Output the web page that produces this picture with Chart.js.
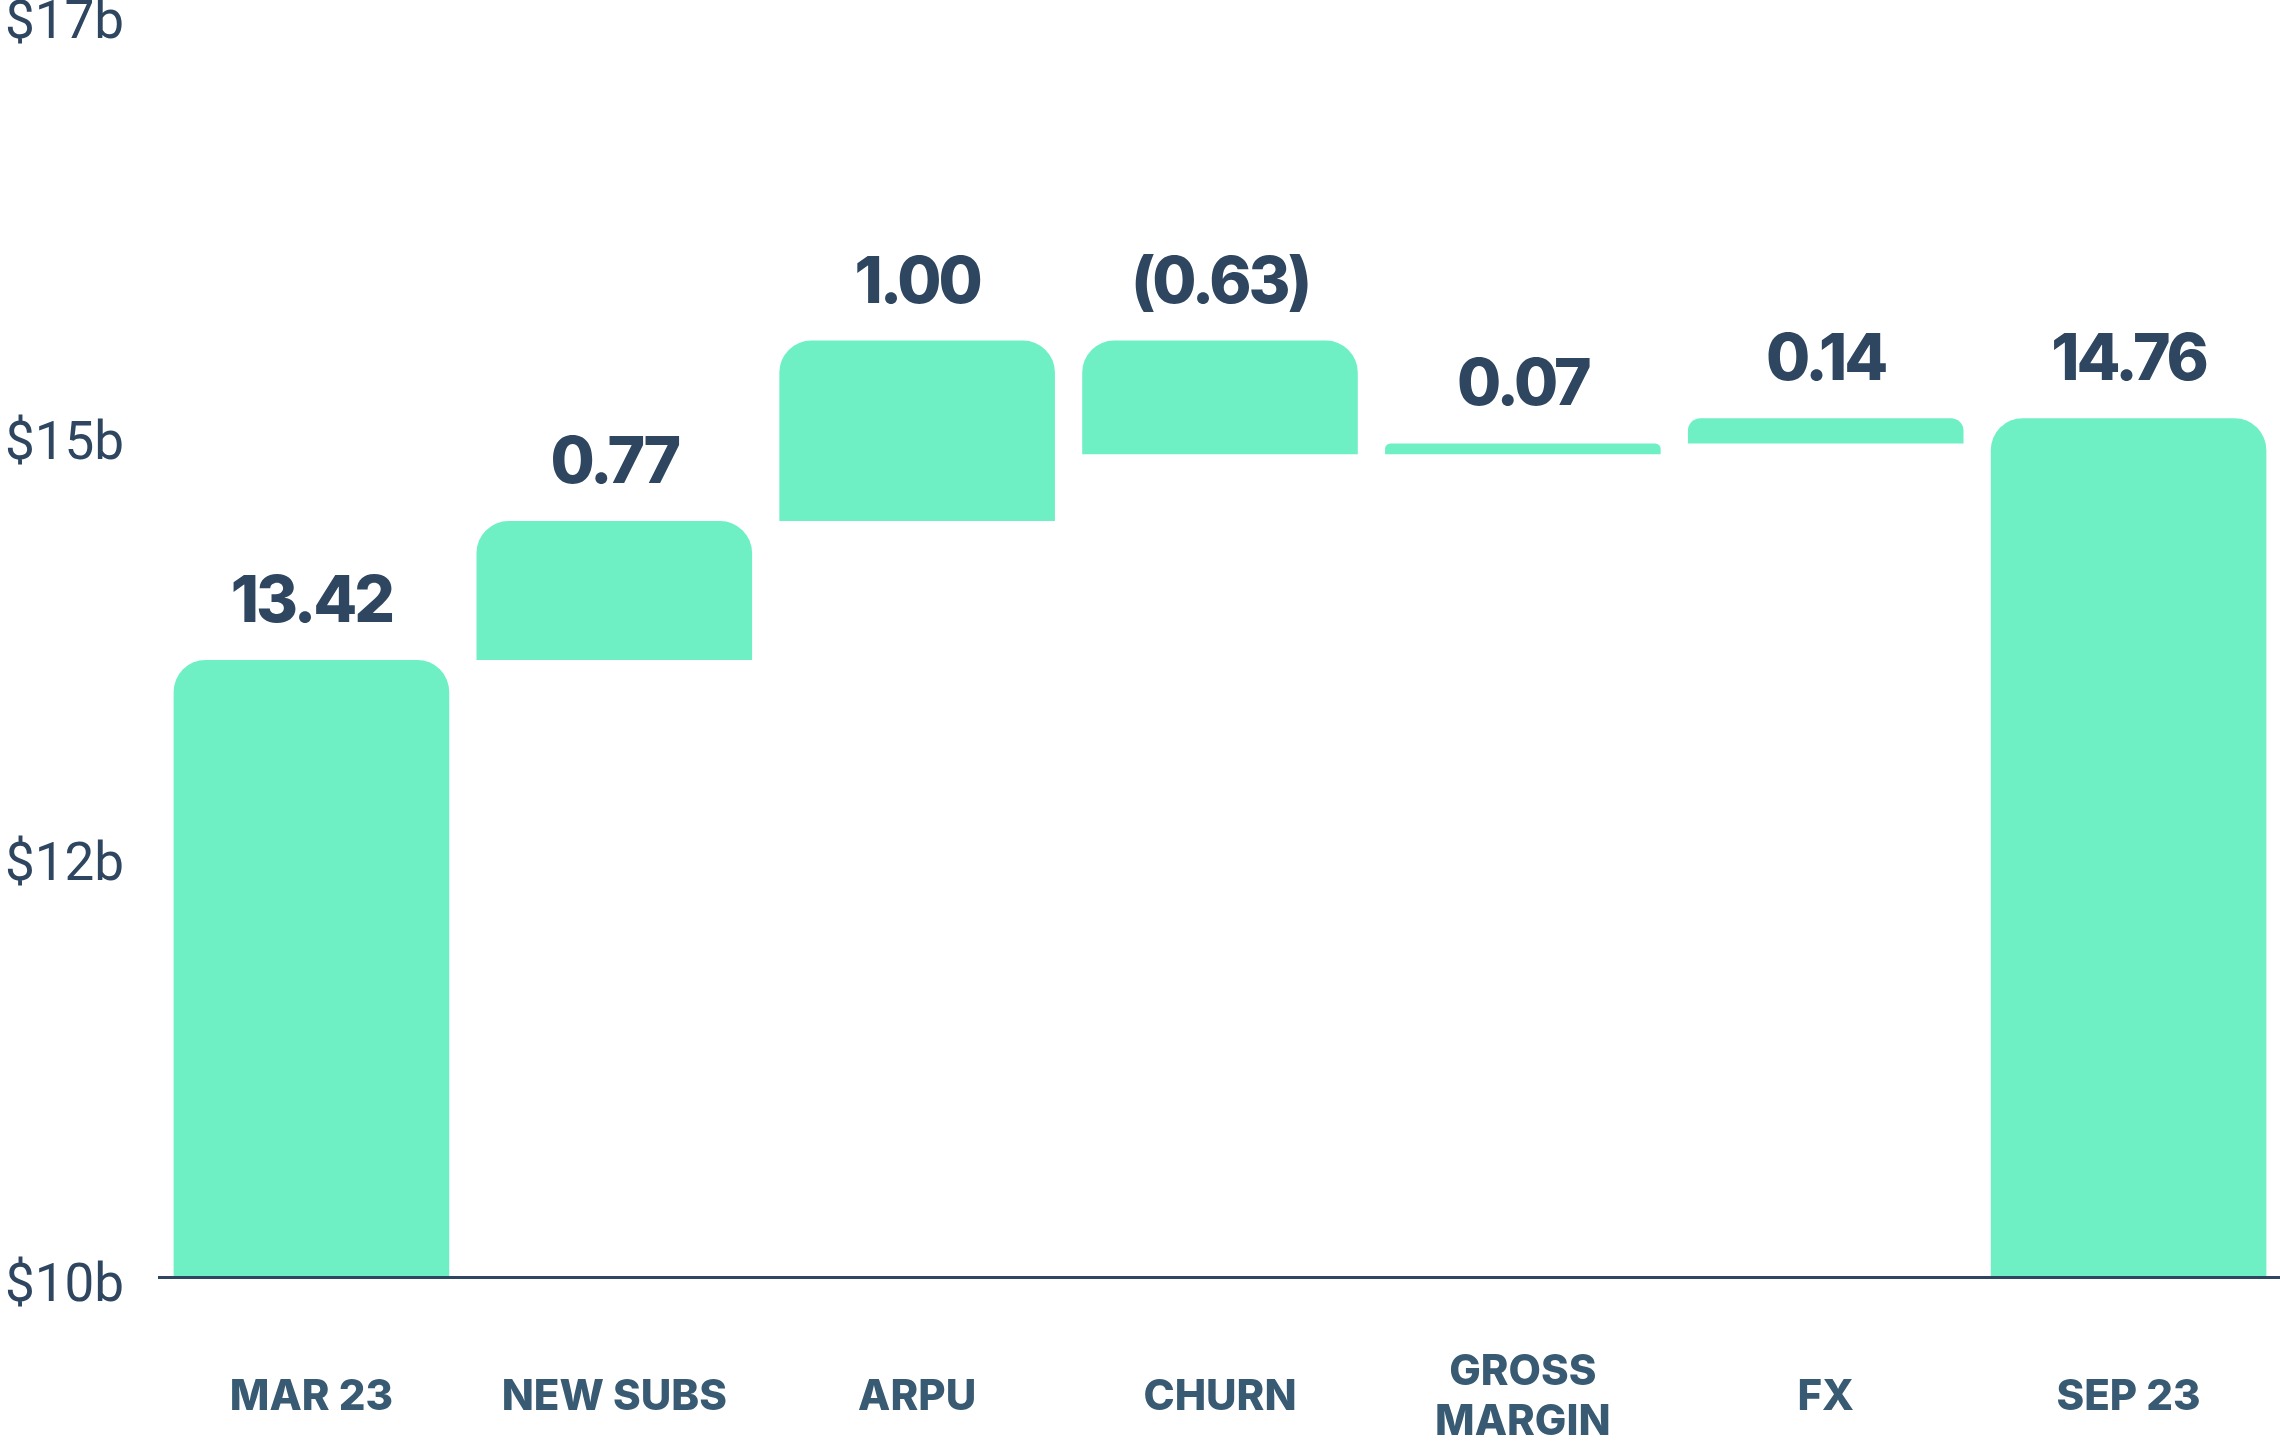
<!DOCTYPE html>
<html>
<head>
<meta charset="utf-8">
<script src="https://cdn.jsdelivr.net/npm/chart.js@4/dist/chart.umd.min.js"></script>
<style>
  html, body { margin: 0; padding: 0; background: #fff; }
  #wrap { width: 2280px; height: 1441px; }
</style>
</head>
<body>
<div id="wrap"><canvas id="myChart"></canvas></div>
<script>
// data (in $b)
const categories = ['MAR 23', 'NEW SUBS', 'ARPU', 'CHURN', ['GROSS', 'MARGIN'], 'FX', 'SEP 23'];
const barStarts = [10, 13.42, 14.19, 15.19, 14.56, 14.62, 10];
const barEnds = [13.42, 14.19, 15.19, 14.56, 14.62, 14.76, 14.76];
const valueLabels = ['13.42', '0.77', '1.00', '(0.63)', '0.07', '0.14', '14.76'];
const yTicks = [10, 12.333, 14.667, 17];
const yTickLabels = ['$10b', '$12b', '$15b', '$17b'];

const dark = '#2f4660';
const green = '#6ff0c4';

// baseline + value labels above each bar
const labelsPlugin = {
  id: 'labels',
  afterDatasetsDraw(chart) {
    const ctx = chart.ctx;
    const y = chart.scales.y;
    const meta = chart.getDatasetMeta(0);
    ctx.save();
    ctx.strokeStyle = dark;
    ctx.lineWidth = 3;
    ctx.beginPath();
    ctx.moveTo(158, y.getPixelForValue(10) + 0.5);
    ctx.lineTo(chart.width, y.getPixelForValue(10) + 0.5);
    ctx.stroke();

    ctx.fillStyle = dark;
    ctx.font = '800 64px Inter';
    ctx.letterSpacing = '-3px';
    ctx.textAlign = 'center';
    ctx.textBaseline = 'alphabetic';
    meta.data.forEach((bar, i) => {
      const top = Math.min(bar.y, bar.base);
      ctx.fillText(valueLabels[i], bar.x, top - 38);
    });
    ctx.restore();
  }
};

let myChart = new Chart(document.getElementById('myChart').getContext('2d'), {
  type: 'bar',
  data: {
    labels: categories,
    datasets: [{
      data: barStarts.map((s, i) => [s, barEnds[i]]),
      backgroundColor: green,
      borderSkipped: 'bottom',
      borderRadius: { topLeft: 32, topRight: 32, bottomLeft: 0, bottomRight: 0 },
      barPercentage: 0.91,
      categoryPercentage: 1
    }]
  },
  options: {
    responsive: true,
    maintainAspectRatio: false,
    animation: false,
    layout: { padding: { top: 14, right: -10, left: 5, bottom: 0 } },
    plugins: {
      legend: { display: false },
      tooltip: { enabled: false }
    },
    scales: {
      x: {
        grid: { display: false },
        border: { display: false },
        afterFit: (scale) => {
          scale.height = 164;
          scale.paddingLeft = 0;
          scale.paddingRight = 0;
        },
        ticks: {
          color: '#385a72',
          padding: 87,
          crossAlign: 'center',
          maxRotation: 0,
          autoSkip: false,
          font: { family: 'Inter', weight: '800', size: 42, lineHeight: 1.19 }
        }
      },
      y: {
        min: 10,
        max: 17,
        grid: { display: false },
        border: { display: false },
        afterBuildTicks: (scale) => {
          scale.ticks = yTicks.map(v => ({ value: v }));
        },
        afterFit: (scale) => { scale.width = 155; },
        ticks: {
          color: dark,
          crossAlign: 'far',
          padding: 0,
          labelOffset: 11,
          font: { family: 'Roboto', weight: '400', size: 53, lineHeight: 0.3 },
          callback: (value, index) => yTickLabels[index]
        }
      }
    }
  },
  plugins: [labelsPlugin]
});
</script>
</body>
</html>
